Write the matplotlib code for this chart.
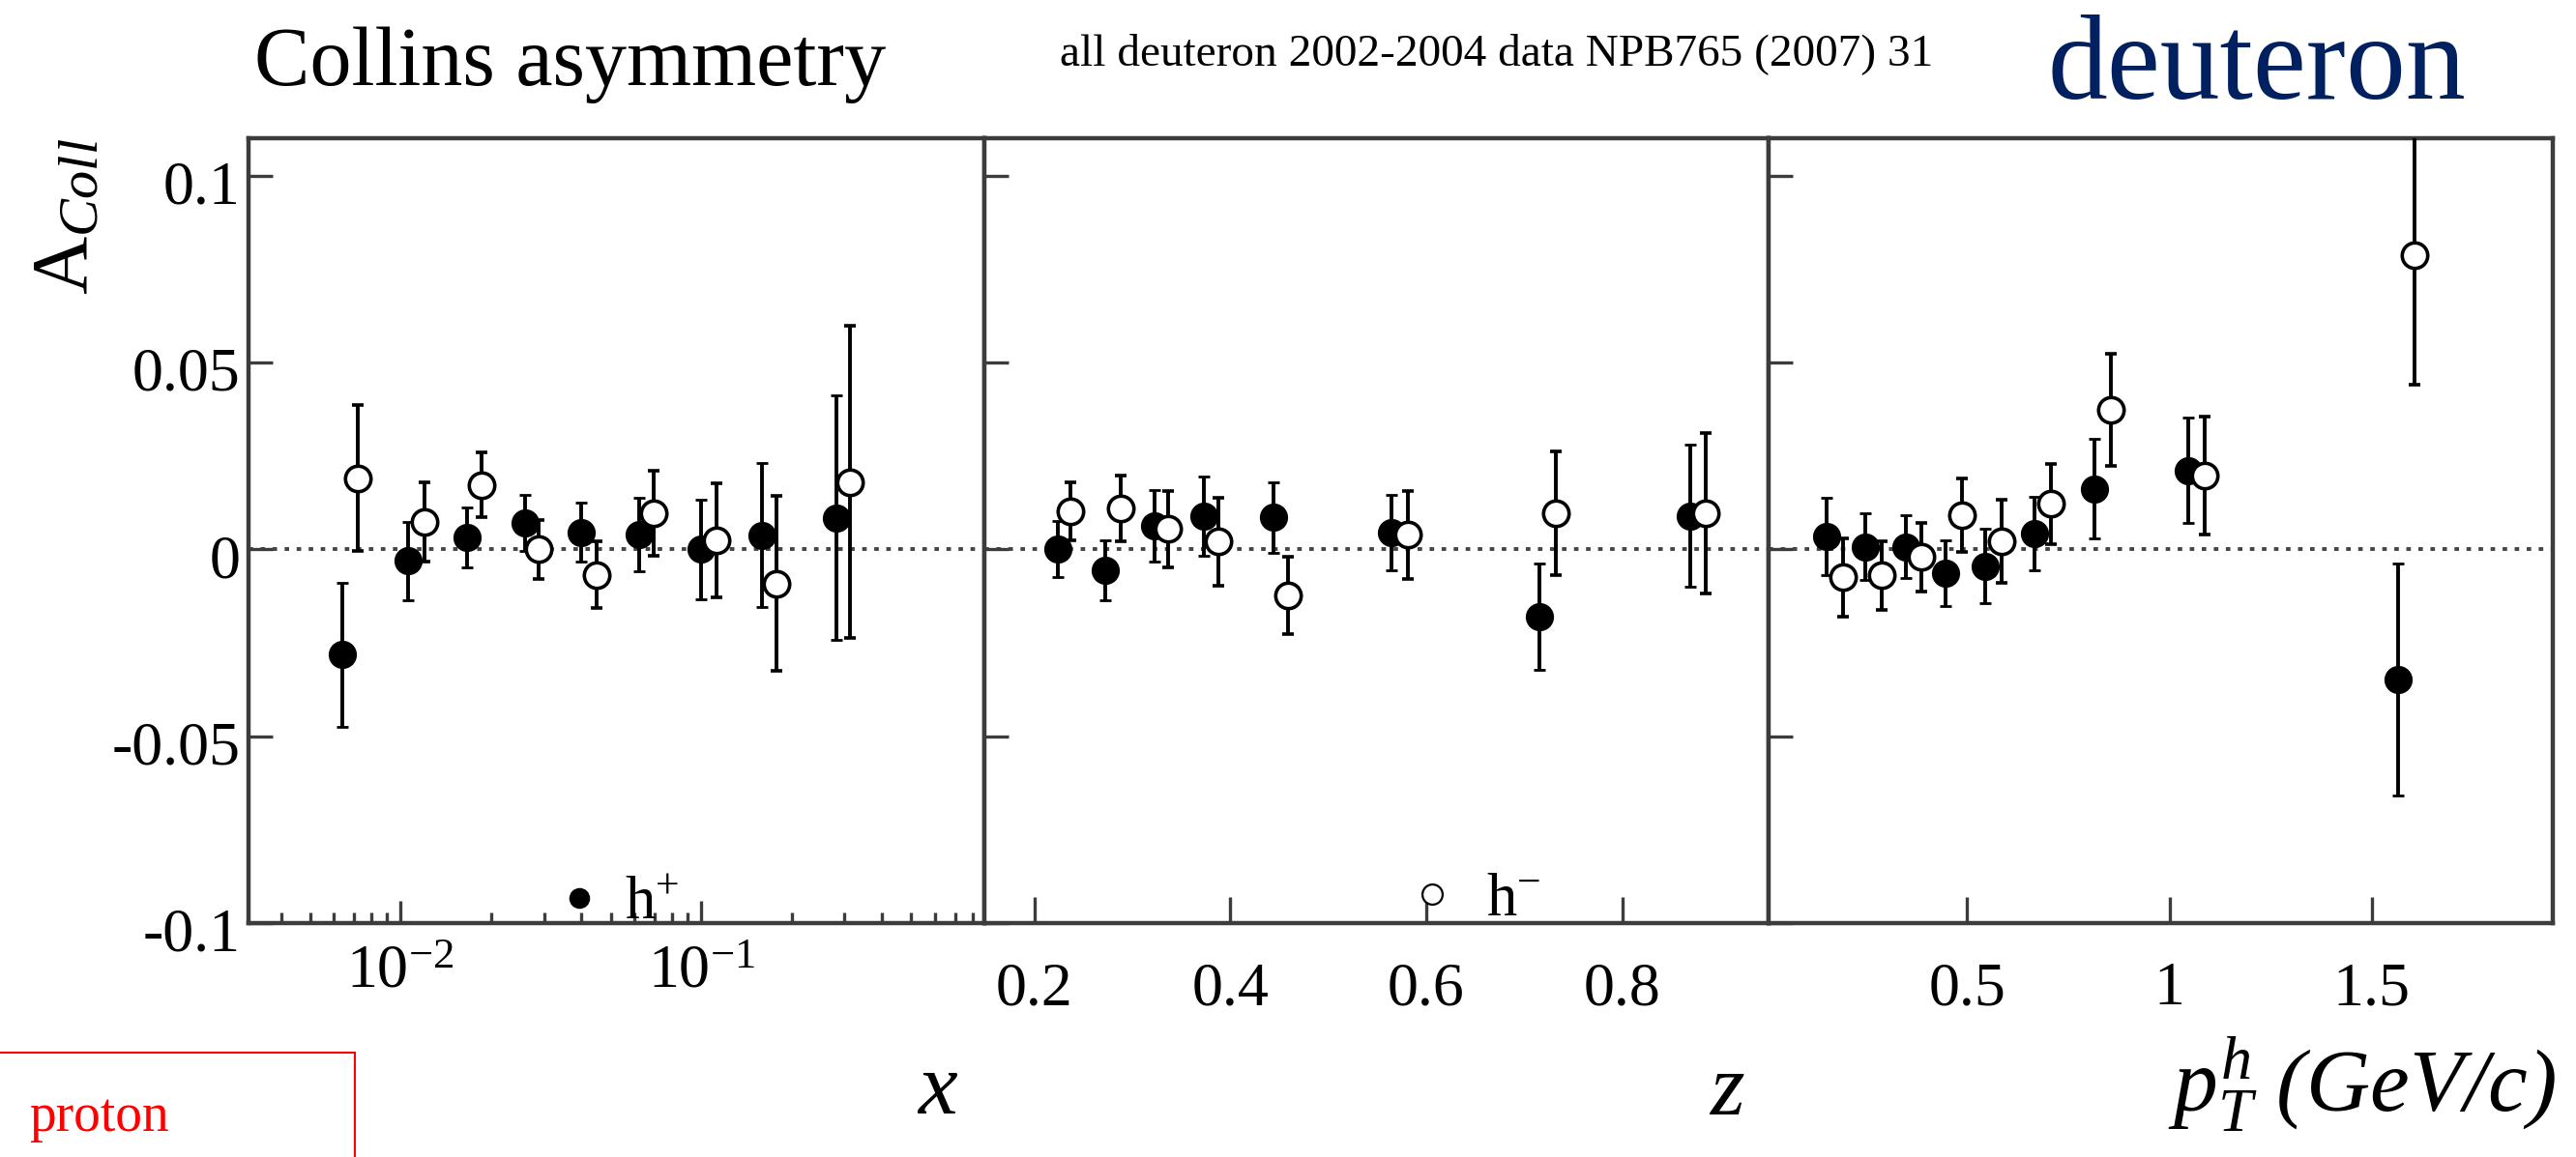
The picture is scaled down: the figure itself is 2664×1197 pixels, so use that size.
import matplotlib.pyplot as plt
from matplotlib.lines import Line2D
from matplotlib.patches import Rectangle
from matplotlib.transforms import ScaledTranslation

plt.rcParams['font.family'] = 'Liberation Serif'
plt.rcParams['mathtext.fontset'] = 'custom'
plt.rcParams['mathtext.rm'] = 'Liberation Serif'
plt.rcParams['mathtext.it'] = 'Liberation Serif:italic'

# Collins asymmetry vs x (h+ filled, h- open)
x_pos = [0.0064, 0.0106, 0.0167, 0.0259, 0.0398, 0.0623, 0.0996, 0.159, 0.281]
a_pos_x = [-0.0282, -0.0031, 0.0031, 0.0070, 0.0046, 0.0039, 0.0, 0.0038, 0.0084]
e_pos_x = [0.0193, 0.0104, 0.0080, 0.0075, 0.0080, 0.0098, 0.0134, 0.0192, 0.0327]
x_neg = [0.0072, 0.0120, 0.0186, 0.0288, 0.0449, 0.0693, 0.1125, 0.178, 0.313]
a_neg_x = [0.0190, 0.0073, 0.0172, 0.0, -0.0068, 0.0096, 0.0025, -0.0092, 0.0180]
e_neg_x = [0.0195, 0.0107, 0.0087, 0.0079, 0.0090, 0.0114, 0.0153, 0.0234, 0.0418]

# vs z
z_pos = [0.224, 0.272, 0.323, 0.373, 0.444, 0.565, 0.716, 0.870]
a_pos_z = [0.0, -0.0056, 0.0063, 0.0089, 0.0085, 0.0045, -0.0180, 0.0089]
e_pos_z = [0.0075, 0.0080, 0.0095, 0.0107, 0.0094, 0.0101, 0.0143, 0.0190]
z_neg = [0.237, 0.288, 0.337, 0.388, 0.459, 0.581, 0.732, 0.885]
a_neg_z = [0.0101, 0.0110, 0.0054, 0.0021, -0.0124, 0.0039, 0.0096, 0.0096]
e_neg_z = [0.0078, 0.0088, 0.0102, 0.0118, 0.0104, 0.0118, 0.0165, 0.0215]

# vs pT
pt_pos = [0.154, 0.250, 0.349, 0.447, 0.546, 0.668, 0.816, 1.046, 1.566]
a_pos_pt = [0.0035, 0.0007, 0.0007, -0.0063, -0.0045, 0.0042, 0.0162, 0.0211, -0.0348]
e_pos_pt = [0.0104, 0.0089, 0.0085, 0.0088, 0.0100, 0.0099, 0.0133, 0.0141, 0.0310]
pt_neg = [0.193, 0.289, 0.388, 0.487, 0.586, 0.708, 0.855, 1.086, 1.605]
a_neg_pt = [-0.0075, -0.0070, -0.0021, 0.0092, 0.0021, 0.0122, 0.0373, 0.0197, 0.0786]
e_neg_pt = [0.0104, 0.0092, 0.0091, 0.0098, 0.0111, 0.0107, 0.0151, 0.0158, 0.0345]

y_ticks = [-0.1, -0.05, 0, 0.05, 0.1]
y_labels = ['-0.1', '-0.05', '0', '0.05', '0.1']

W, H = 2664, 1197
fig = plt.figure(figsize=(W / 100, H / 100), dpi=100)
frame = '#3c3c3c'


def panel(left, right):
    return fig.add_axes([left / W, 1 - 955 / H, (right - left) / W, (955 - 143) / H])


def draw(ax, xp, ap, ep, xn, an, en):
    ax.axhline(0, ls=(0, (1.2, 2.0)), lw=2.8, color='#444444', zorder=1)
    ax.errorbar(xp, ap, yerr=ep, fmt='o', color='black', ms=19, mew=2,
                capsize=4, elinewidth=2.8, capthick=2.6, zorder=3)
    ax.errorbar(xn, an, yerr=en, fmt='o', color='black', mfc='white', mec='black',
                ms=19, mew=2.6, capsize=4, elinewidth=2.8, capthick=2.6, zorder=4)
    ax.set_ylim(-0.1, 0.11)
    ax.set_yticks(y_ticks)
    for s in ax.spines.values():
        s.set_color(frame)
        s.set_linewidth(3.2)
    ax.tick_params(axis='y', direction='in', length=18, width=2.4, color=frame,
                   left=True, right=False, labelleft=False)
    ax.tick_params(axis='x', which='both', direction='in', width=2.4, color=frame,
                   top=False, labelsize=46)


ax1 = panel(257, 1018)
ax2 = panel(1018, 1829)
ax3 = panel(1829, 2640)

draw(ax1, x_pos, a_pos_x, e_pos_x, x_neg, a_neg_x, e_neg_x)
draw(ax2, z_pos, a_pos_z, e_pos_z, z_neg, a_neg_z, e_neg_z)
draw(ax3, pt_pos, a_pos_pt, e_pos_pt, pt_neg, a_neg_pt, e_neg_pt)

# x panel: log scale
ax1.set_xscale('log')
ax1.set_xlim(0.00312, 0.875)
ax1.set_xticks([0.01, 0.1])
ax1.set_xticklabels([r'$\mathregular{10^{-2}}$', r'$\mathregular{10^{-1}}$'])
minors = [k * 1e-3 for k in range(4, 10)] + [k * 1e-2 for k in range(2, 10)] + [k * 0.1 for k in range(2, 9)]
ax1.set_xticks(minors, minor=True)
ax1.xaxis.set_minor_formatter(plt.NullFormatter())
ax1.tick_params(axis='x', which='major', length=16.5, pad=16)
ax1.tick_params(axis='x', which='minor', length=8)
ax1.tick_params(axis='y', labelleft=True, labelsize=46, pad=6)
ax1.set_yticklabels(y_labels)
for lab in ax1.get_yticklabels():
    lab.set_transform(lab.get_transform() + ScaledTranslation(0, -0.07, fig.dpi_scale_trans))

ax2.set_xlim(0.149, 0.9495)
ax2.set_xticks([0.2, 0.4, 0.6, 0.8])
ax2.set_xticklabels(['0.2', '0.4', '0.6', '0.8'])
ax2.tick_params(axis='x', length=19.5, pad=29)

ax3.set_xlim(0.01, 1.947)
ax3.set_xticks([0.5, 1, 1.5])
ax3.set_xticklabels(['0.5', '1', '1.5'])
ax3.tick_params(axis='x', length=19.5, pad=29)

# legend entries sitting inside the panels
h_plus = Line2D([], [], ls='none', marker='o', ms=14, mfc='black', mec='black', mew=1.5)
h_minus = Line2D([], [], ls='none', marker='o', ms=15, mfc='white', mec='black', mew=1.6)
ax1.legend([h_plus], ['h$^{+}$'], loc='center left', bbox_to_anchor=(580 / W, 1 - 936 / H),
           bbox_transform=fig.transFigure, frameon=False, fontsize=45, handlelength=0.6,
           handletextpad=0.45, borderpad=0, borderaxespad=0, numpoints=1)
ax2.legend([h_minus], ['h$^{-}$'], loc='center left', bbox_to_anchor=(1462 / W, 1 - 932 / H),
           bbox_transform=fig.transFigure, frameon=False, fontsize=45, handlelength=0.6,
           handletextpad=0.6, borderpad=0, borderaxespad=0, numpoints=1)

# axis titles
fig.text(70 / W, 1 - 143 / H, r'$\mathregular{A}_{Coll}$', rotation=90, ha='center', va='top', fontsize=60)
fig.text(990 / W, 1 - 1152 / H, 'x', style='italic', fontsize=66, ha='right', va='baseline')
fig.text(1804 / W, 1 - 1153 / H, 'z', style='italic', fontsize=66, ha='right', va='baseline')
fig.text(2643 / W, 1 - 1150 / H, r'$p^{h}_{T}$ (GeV/c)', style='italic', fontsize=66,
         ha='right', va='baseline')

# header texts
fig.text(263 / W, 1 - 88 / H, 'Collins asymmetry', fontsize=62, va='baseline')
fig.text(1096 / W, 1 - 67 / H, 'all deuteron 2002-2004 data NPB765 (2007) 31', fontsize=34, va='baseline')
fig.text(2118 / W, 1 - 102 / H, 'deuteron', fontsize=89, color='#002060', va='baseline')

# red "proton" box in the lower left corner
fig.patches.append(Rectangle((-0.01, -0.1), 367 / W + 0.01, 0.1 + 1 - 1089 / H,
                             transform=fig.transFigure, fill=False, edgecolor='red', lw=1.5))
fig.text(30 / W, 1 - 1170 / H, 'proton', color='red', fontsize=40, va='baseline')

fig.savefig('out.png', dpi=100, facecolor='white')
